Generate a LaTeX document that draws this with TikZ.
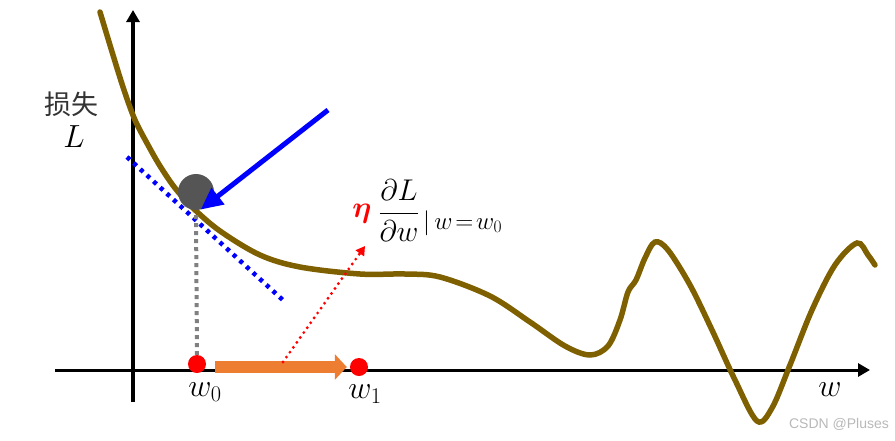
\RequirePackage{fix-cm}
\documentclass[tikz,border=0pt]{standalone}
\usepackage{amsmath}
\usepackage{fontspec}
\newfontfamily\cjk{Noto Sans CJK SC}
\newfontfamily\wmfont{Liberation Sans}
\usetikzlibrary{arrows.meta}
\definecolor{lossbrown}{RGB}{127,96,0}
\definecolor{stepor}{RGB}{237,125,49}
\definecolor{ballgray}{RGB}{85,85,85}

\begin{document}
\begin{tikzpicture}[x=1pt, y=-1pt,
		axis/.style={line width=3pt, -{Triangle[length=12pt,width=13pt]}},
		reddot/.style={circle, fill=red, minimum size=18pt, inner sep=0pt},
		big/.style={font=\fontsize{32}{36}\selectfont}]
		\useasboundingbox (0,0) rectangle (895,440);
		% Coordinates
		\coordinate (yBot) at (133,402);
		\coordinate (yTop) at (133,10);
		\coordinate (xLeft) at (55,370);
		\coordinate (xRight) at (870,370);
		
		\coordinate (tanA) at (127,157);
		\coordinate (tanB) at (285,302);
		\coordinate (push) at (328,110);
		\coordinate (stepMid) at (283,362);
		\coordinate (gradTip) at (365,246);
		
		% Draw axes
		\draw [axis, line width=3.8pt] (yBot) -- (yTop);
		\draw [axis] (xLeft) -- (xRight);
		\node[text=black!80, font=\cjk\fontsize{27}{30}\selectfont] (lossZh) at (72,104) {损失};
		\node[big] (lossL) at (74,137) {$L$};
		\node[big] (wAxis) at (830,390) {$w$};
		
		% Loss curve
		\draw[lossbrown, line width=5.5pt, line cap=round] plot[smooth, tension=0.55] coordinates {
			(100,12) (113,55) (124,90) (135,120) (148,145) (160,166) (175,188)
			(193,208) (220,231) (260,255) (300,267) (360,274) (405,274)
			(440,277) (490,296) (530,322) (565,346) (590,355) (608,346)
			(620,320) (628,292) (636,280) (645,258) (655,242) (668,250)
			(690,285) (712,330) (735,380) (757,421) (772,408) (790,365)
			(812,310) (835,265) (857,243) (868,255) (875,265)};
		
		% Tangent and ball
		\draw[blue, line width=4.5pt, dash pattern=on 4pt off 5pt] (tanA) -- (tanB);
		\node[circle, fill=ballgray, minimum size=36pt, inner sep=0pt] (ball) at (196,192) {};
		\draw[blue, line width=5pt, -{Triangle[length=22pt,width=20pt]}] (push) -- (ball.-75);
		
		% Points on the w axis
		\node[reddot] (w0dot) at (197,364) {};
		\node[reddot] (w1dot) at (359,367) {};
		\node[big] (w0) at (205,392) {$w_0$};
		\node[big] (w1) at (365,394) {$w_1$};
		\draw[gray, line width=4pt, dash pattern=on 4pt off 4pt] (ball.south) ++(0,5) -- (w0dot.north);
		\draw[stepor, line width=12pt, -{Triangle[length=12pt,width=25pt]}, shorten <=9pt, shorten >=3pt]
			(w0dot.east |- w1dot) -- (w1dot.west);
		
		% Gradient step
		\draw[red, line width=3.2pt, line cap=round, dash pattern=on 0pt off 6pt, -{Triangle[length=9pt,width=10pt]}] (stepMid) -- (gradTip);
		\node[text=red, font=\fontsize{30}{34}\selectfont] (eta) at (362,214) {$\boldsymbol{\eta}$};
		\node[font=\fontsize{30}{34}\selectfont] (grad) at (399,211) {$\dfrac{\partial L}{\partial w}$};
		\node[anchor=base west, inner sep=0pt, font=\fontsize{25}{28}\selectfont] (at) at (423,229) {$|\,w\!=\!w_0$};
		
		\node[text=black!28, font=\wmfont\fontsize{14}{16}\selectfont] (mark) at (839,424) {CSDN @Pluses};
	\end{tikzpicture}
\end{document}
